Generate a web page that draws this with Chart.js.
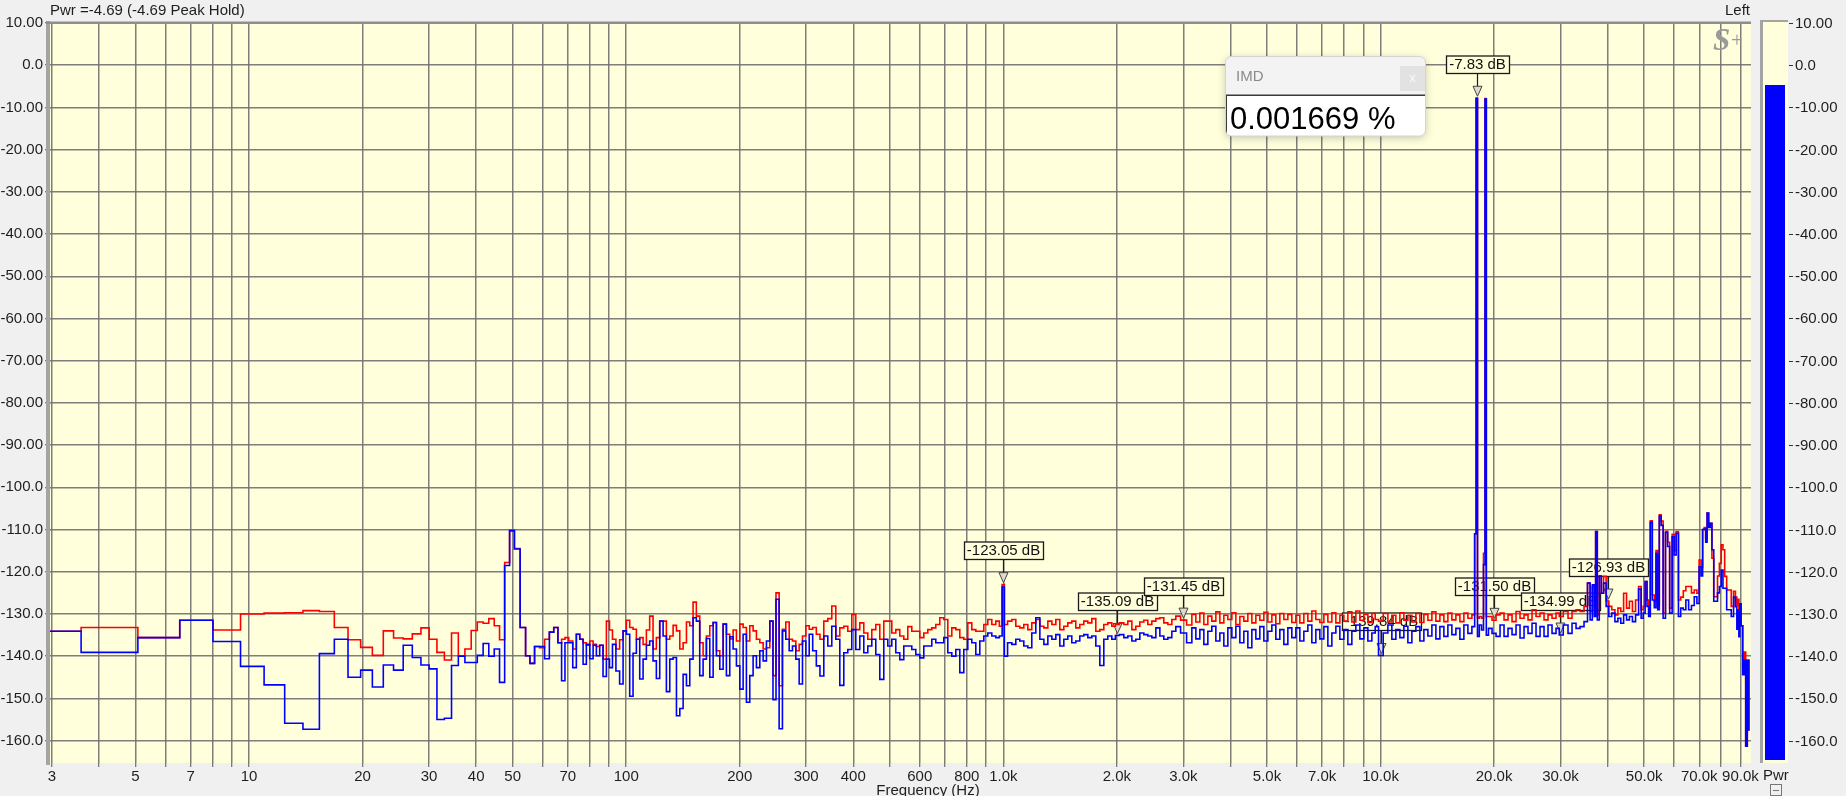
<!DOCTYPE html>
<html>
<head>
<meta charset="utf-8">
<script src="https://cdn.jsdelivr.net/npm/chart.js@4.4.1/dist/chart.umd.min.js"></script>
<style>
  html, body { margin: 0; padding: 0; background: #f0f0f0; }
  canvas { display: block; }
</style>
</head>
<body>
<canvas id="chart" width="1846" height="796"></canvas>
<script>
// spectrum, frequency in Hz
const freqHz = [
  2.93, 4.39, 5.86, 7.32, 8.79, 10.25, 11.72, 13.18, 14.65, 16.11,
  17.58, 19.04, 20.51, 21.97, 23.44, 24.90, 26.37, 27.83, 29.30, 30.76,
  32.23, 33.69, 35.16, 36.62, 38.09, 39.55, 41.02, 42.48, 43.95, 45.41,
  46.88, 48.34, 49.80, 51.27,
  53.4, 54.8, 56.3, 58.0, 59.8, 61.7, 63.4, 65.1, 66.7, 68.1,
  69.5, 71.3, 73.0, 74.5, 76.1, 77.6, 79.2, 80.9, 82.5, 84.2,
  85.9, 87.7, 89.5, 91.1, 92.8, 95.0, 97.1, 99.1, 101.1, 103.2,
  105.3, 107.5, 109.7, 112.0, 114.2, 116.6, 119.0, 121.4, 124.0, 126.5,
  129.1, 131.8, 134.5, 137.3, 140.1, 143.0, 145.9, 148.9, 151.9, 155.0,
  158.3, 161.5, 164.8, 168.3, 171.7, 175.2, 178.9, 182.5, 186.2, 190.1,
  194.0, 198.0, 202.1, 206.2, 210.4, 214.8, 219.2, 223.7, 228.4, 233.0,
  237.8, 242.7, 247.3, 251.8, 256.9, 262.2, 267.7, 273.2, 278.7, 284.5,
  290.4, 296.3, 302.5, 308.7, 315.7, 322.7,
  330, 338.2, 346.5, 355.1, 363.9, 372.9, 382.1, 391.5, 401.2, 411.1,
  421.3, 431.7, 442.4, 453.3, 464.5, 476.0, 487.8, 499.8, 512.2, 524.8,
  537.8, 551.1, 564.7, 578.7, 593.0, 607.7, 622.7, 638.1, 653.9, 670.0,
  686.6, 703.6, 721.0, 738.8, 757.1, 775.8, 795.0, 814.6, 834.8, 855.4,
  876.6, 898.3, 920.5, 943.2, 966.6, 985, 1000, 1012, 1040, 1066,
  1092, 1119, 1147, 1175, 1204, 1234, 1265, 1296, 1328, 1361,
  1394, 1429, 1464, 1500, 1537, 1575, 1614, 1654, 1695, 1737,
  1780, 1824, 1869, 1915, 1963, 2000, 2061, 2112, 2164, 2218,
  2272, 2329, 2386, 2445, 2506, 2568, 2631, 2696, 2763, 2831,
  2901, 3000, 3122, 3199, 3278, 3359, 3442, 3527, 3614, 3704,
  3795, 3889, 3985, 4084, 4185, 4288, 4394, 4503, 4614, 4728,
  4845, 4965, 5088, 5213, 5342, 5474, 5610, 5748, 5890,
  6036, 6185, 6338, 6495, 6655, 6820, 6989, 7162, 7339, 7520,
  7706, 7897, 8092, 8292, 8497, 8707, 8923, 9143, 9369, 9601,
  9760, 10000, 10331, 10586, 10848, 11116, 11391, 11673, 11962, 12257,
  12561, 12871, 13189, 13516, 13850, 14192,
  14543, 14903, 15271, 15649, 16036, 16432, 16839, 17255, 17682, 17850,
  18000, 18150, 18400, 18650, 18850, 19000, 19150, 19510, 20000, 20490,
  21000, 21515, 22047, 22592, 23150, 23722, 24309, 24910, 25526, 26157,
  26803, 27466, 28145, 28840, 29553, 30000, 31033, 31800, 32586, 33391,
  34217, 35063, 35700, 36200, 36680, 37070, 37300, 37820, 38220, 38760,
  39290, 40000, 40600, 41450, 42200, 43000, 43700, 44520, 45300, 46100,
  47000, 47900, 48770, 49400, 50000, 50600, 51150, 51640, 52180, 52920,
  53470, 54030, 54570, 55130, 55800, 56490, 57420, 58000, 58850, 59790,
  60300, 61270, 62020, 63000, 64000, 65000, 66200, 67300, 68500, 69500,
  70380, 71100, 71810, 72500, 73100, 73770, 74490, 75200, 76060, 76900,
  77800, 78700, 79600, 80500, 81300, 82200, 83300, 84500, 85700, 86900,
  87700, 88400, 88900, 89400, 89900, 90800, 91700, 92500, 93400, 94300,
  95200
];

// red trace, dB
const redDb = [
  -134.1, -133.2, -135.6, -131.5, -133.8, -130.0, -129.8, -129.7, -129.2, -129.4,
  -133.2, -136.1, -137.9, -139.8, -134.0, -135.7, -135.9, -134.7, -133.3, -136.0,
  -139.1, -140.9, -134.5, -139.9, -138.3, -133.9, -131.9, -132.2, -131.1, -132.8,
  -136.1, -117.8, -110.1, -114.5,
  -133.2, -139.9, -141.7, -137.7, -138.0, -136.0, -134.3, -133.2, -136.8, -136.0,
  -135.6, -136.4, -138.3, -134.8, -136.0, -136.8, -137.4, -136.4, -137.2, -137.7,
  -137.4, -140.7, -131.7, -133.8, -136.0, -138.3, -136.1, -134.0, -131.5, -133.2,
  -133.6, -136.0, -135.6, -137.2, -133.8, -130.5, -138.3, -135.6, -131.7, -131.7,
  -136.0, -135.2, -132.7, -134.0, -138.3, -136.8, -131.9, -132.8, -127.2, -130.5,
  -136.8, -139.9, -135.2, -132.8, -132.0, -138.7, -139.9, -132.4, -134.8, -135.9,
  -133.8, -136.4, -132.4, -133.2, -136.4, -132.8, -134.0, -136.0, -136.8, -138.3,
  -138.0, -131.7, -144.6, -125.0, -147.0, -133.6, -131.9, -136.0, -136.4, -138.7,
  -137.2, -135.2, -132.8, -133.6, -133.2, -134.8,
  -136.0, -131.7, -131.1, -128.1, -135.2, -133.3, -132.9, -134.1, -130.1, -133.7,
  -132.1, -134.5, -136.0, -133.7, -132.5, -136.0, -131.7, -131.7, -134.5, -133.7,
  -135.2, -136.0, -133.0, -134.1, -134.1, -135.6, -134.5, -133.7, -133.3, -132.5,
  -130.9, -131.3, -135.2, -133.3, -133.7, -135.6, -136.0, -132.1, -133.7, -134.1,
  -134.1, -132.5, -131.3, -132.5, -131.7, -132.9, -123.05, -132.5, -131.7, -131.3,
  -132.9, -133.3, -132.5, -133.7, -132.1, -131.3, -132.9, -133.3, -131.7, -132.5,
  -131.3, -133.7, -132.9, -132.1, -131.7, -133.3, -132.5, -131.7, -132.1, -131.1,
  -134.1, -133.7, -132.5, -132.1, -132.9, -132.5, -132.1, -132.5, -131.7, -133.7,
  -132.9, -131.9, -131.5, -132.5, -131.7, -131.1, -130.9, -132.1, -132.5, -131.3,
  -130.5, -131.45, -132.6, -130.1, -131.9, -129.8, -132.5, -130.5, -131.7, -129.5,
  -132.1, -130.3, -131.3, -129.7, -132.5, -130.6, -131.7, -129.9, -132.1, -130.3,
  -131.5, -129.6, -131.9, -130.2, -132.3, -129.9, -131.3, -130.1, -132.0,
  -130.3, -132.1, -129.9, -131.7, -129.3, -131.3, -132.0, -130.1, -131.9, -129.7,
  -132.1, -130.3, -131.7, -129.5, -131.9, -129.3, -131.5, -130.1, -132.0, -129.9,
  -131.3, -131.7, -129.9, -131.9, -130.3, -132.1, -129.7, -131.5, -130.3, -131.9,
  -129.9, -132.0, -130.1, -131.5, -129.5, -131.7,
  -130.2, -131.8, -129.8, -131.4, -130.2, -131.8, -129.8, -131.0, -130.2, -111.0,
  -7.83, -131.0, -130.6, -131.0, -115.6, -7.9, -130.6, -130.6, -131.50, -130.2,
  -129.8, -131.4, -130.2, -131.8, -129.4, -131.0, -130.2, -131.4, -129.0, -130.6,
  -129.8, -131.4, -130.2, -131.0, -129.8, -130.6, -129.4, -131.0, -129.4, -129.0,
  -129.4, -128.2, -122.7, -129.4, -123.5, -128.6, -110.5, -130.2, -121.0, -125.1,
  -121.1, -126.93, -128.2, -129.0, -130.2, -128.6, -129.4, -125.1, -128.6, -127.0,
  -129.4, -126.7, -123.5, -129.0, -128.2, -122.3, -126.7, -129.8, -107.9, -125.5,
  -127.0, -115.0, -128.0, -106.5, -108.0, -129.8, -110.4, -113.0, -128.6, -111.1,
  -115.0, -110.5, -126.7, -126.0, -124.5, -123.5, -123.5, -125.0, -124.3, -125.1,
  -117.2, -119.0, -110.0, -109.5, -112.0, -106.1, -109.0, -108.5, -116.8, -125.9,
  -125.9, -121.0, -118.0, -113.6, -114.8, -121.1, -124.3, -124.3, -128.2, -124.6,
  -126.0, -128.0, -126.5, -130.0, -127.6, -132.8, -143.0, -139.0, -161.3, -141.0,
  -157.5
];

// blue trace, dB
const blueDb = [
  -134.1, -139.1, -135.6, -131.5, -136.5, -142.4, -146.8, -155.9, -157.3, -139.4,
  -136.0, -145.0, -143.3, -147.3, -142.1, -143.3, -137.4, -140.3, -142.1, -143.0,
  -155.0, -154.7, -142.2, -140.0, -141.5, -141.5, -139.8, -137.0, -140.0, -138.3,
  -146.2, -118.5, -110.3, -114.6,
  -133.2, -139.9, -141.7, -137.7, -137.7, -140.6, -134.3, -133.2, -136.8, -145.8,
  -136.8, -136.8, -142.7, -134.8, -136.0, -141.9, -137.2, -140.6, -137.4, -139.9,
  -137.4, -144.8, -140.7, -142.7, -137.2, -143.5, -146.6, -134.0, -134.8, -149.5,
  -139.3, -136.0, -145.4, -140.7, -137.4, -136.4, -141.1, -145.3, -131.7, -135.2,
  -148.4, -140.7, -140.3, -154.1, -152.4, -144.3, -147.0, -140.7, -130.9, -131.7,
  -144.6, -140.7, -135.8, -145.0, -132.0, -139.9, -143.1, -132.4, -144.6, -135.4,
  -138.3, -142.3, -147.8, -134.8, -150.9, -144.6, -139.9, -142.7, -138.7, -141.1,
  -136.4, -131.7, -150.3, -126.5, -157.2, -134.0, -136.0, -138.7, -137.6, -140.7,
  -146.6, -136.4, -139.9, -134.8, -138.7, -142.3,
  -144.7, -135.2, -137.6, -132.9, -136.0, -146.9, -139.2, -138.4, -133.7, -138.4,
  -135.2, -139.2, -137.6, -136.0, -139.6, -145.5, -136.0, -137.6, -136.0, -139.2,
  -140.8, -137.6, -137.6, -138.4, -139.6, -140.4, -137.6, -137.6, -136.0, -136.8,
  -136.8, -135.6, -139.2, -140.0, -138.4, -143.9, -138.4, -136.0, -136.8, -139.6,
  -136.4, -135.2, -134.5, -135.2, -135.6, -135.2, -123.6, -140.0, -136.8, -137.2,
  -136.0, -136.4, -137.6, -138.0, -134.5, -130.9, -136.0, -137.2, -135.2, -136.0,
  -134.9, -137.6, -136.0, -135.2, -136.8, -136.4, -135.2, -134.9, -135.6, -135.2,
  -137.6, -142.2, -136.0, -135.2, -136.0, -135.09, -134.9, -135.6, -135.2, -136.4,
  -136.0, -134.5, -134.9, -135.2, -135.6, -133.3, -135.2, -136.0, -135.6, -134.1,
  -133.0, -134.5, -136.8, -133.3, -135.9, -133.7, -137.2, -134.1, -132.9, -136.4,
  -134.5, -137.6, -133.3, -135.6, -132.9, -136.8, -134.1, -138.0, -133.7, -135.9,
  -133.0, -136.4, -134.1, -132.6, -136.0, -133.7, -137.2, -133.3, -135.6,
  -133.3, -136.4, -134.1, -132.6, -136.8, -133.7, -135.9, -133.0, -137.6, -134.5,
  -132.9, -136.0, -133.7, -137.2, -134.1, -132.6, -135.9, -133.3, -136.4, -134.5,
  -133.0, -139.84, -134.5, -132.6, -136.0, -133.7, -135.6, -132.9, -136.8, -134.1,
  -133.0, -136.4, -133.7, -135.2, -132.6, -135.9,
  -133.0, -135.3, -132.6, -134.9, -133.4, -136.0, -132.6, -134.6, -133.0, -111.0,
  -7.83, -135.3, -132.6, -133.8, -118.3, -8.0, -135.0, -133.4, -134.6, -135.3,
  -132.6, -135.3, -133.4, -134.9, -132.6, -135.7, -133.0, -134.6, -132.2, -135.3,
  -133.0, -135.3, -132.6, -134.6, -133.4, -134.99, -132.6, -134.6, -132.2, -133.4,
  -133.0, -131.8, -122.7, -131.4, -123.1, -130.6, -110.5, -131.4, -121.0, -125.1,
  -122.7, -128.2, -130.6, -129.8, -131.8, -131.0, -132.2, -130.2, -131.4, -130.6,
  -131.8, -130.2, -124.1, -131.0, -129.8, -122.3, -128.2, -130.6, -108.3, -126.7,
  -128.5, -115.6, -129.0, -106.8, -109.0, -131.0, -110.7, -114.0, -129.8, -111.7,
  -116.0, -110.9, -130.6, -128.6, -129.0, -126.7, -129.0, -128.0, -125.9, -127.5,
  -118.8, -121.0, -110.0, -109.9, -113.0, -106.1, -109.5, -108.5, -114.8, -127.0,
  -127.0, -125.0, -123.5, -119.6, -123.9, -123.9, -129.0, -129.0, -130.6, -126.0,
  -128.3, -133.6, -129.0, -135.4, -127.6, -132.8, -144.4, -141.0, -161.3, -141.0,
  -157.5
];

const xTicks = [
  3, 4, 5, 6, 7, 8, 9,
  10, 20, 30, 40, 50, 60, 70, 80, 90,
  100, 200, 300, 400, 500, 600, 700, 800, 900,
  1000, 2000, 3000, 4000, 5000, 6000, 7000, 8000, 9000,
  10000, 20000, 30000, 40000, 50000, 60000, 70000, 80000, 90000
];
const xTickLabels = [
  '3', '', '5', '', '7', '', '',
  '10', '20', '30', '40', '50', '', '70', '', '',
  '100', '200', '300', '400', '', '600', '', '800', '',
  '1.0k', '2.0k', '3.0k', '', '5.0k', '', '7.0k', '', '',
  '10.0k', '20.0k', '30.0k', '', '50.0k', '', '70.0k', '', '90.0k'
];
const yTicks = [10, 0, -10, -20, -30, -40, -50, -60, -70, -80, -90, -100, -110, -120, -130, -140, -150, -160];
const yTickLabels = ['10.00', '0.0', '-10.00', '-20.00', '-30.00', '-40.00', '-50.00', '-60.00', '-70.00',
  '-80.00', '-90.00', '-100.0', '-110.0', '-120.0', '-130.0', '-140.0', '-150.0', '-160.0'];

const markerHz = [1000, 2000, 3000, 10000, 18000, 20000, 30000, 40000];
const markerDb = [-123.05, -135.09, -131.45, -139.84, -7.83, -131.50, -134.99, -126.93];

const pwrDb = -4.69;
const peakHoldDb = -4.69;
const imdPercent = '0.001669';

const FONT = '"Liberation Sans", Arial, sans-serif';
const PLOT_BG = '#ffffdc';
const GRID = 'rgba(112,112,112,0.9)';

Chart.defaults.font.family = FONT;
Chart.defaults.font.size = 15;
Chart.defaults.color = '#1e1e1e';

const analyzerPlugin = {
  id: 'analyzer',
  beforeDraw(chart) {
    const { ctx, chartArea: a } = chart;
    ctx.save();
    ctx.fillStyle = '#f0f0f0';
    ctx.fillRect(0, 0, chart.width, chart.height);
    ctx.fillStyle = PLOT_BG;
    ctx.fillRect(a.left, a.top, a.right - a.left, a.bottom - a.top);
    ctx.restore();
  },
  beforeDatasetsDraw(chart) {
    const { ctx } = chart;
    const xs = chart.scales.x;
    const ys = chart.scales.y;
    ctx.save();
    ctx.font = '15px ' + FONT;
    ctx.textAlign = 'center';
    ctx.textBaseline = 'middle';
    markerHz.forEach((f, i) => {
      const x = Math.round(xs.getPixelForValue(f)) + 0.5;
      const vy = ys.getPixelForValue(markerDb[i]);
      const tip = vy - 2;
      const triTop = tip - 10;
      const boxBottom = Math.round(vy - 25.5) + 0.5;
      const boxTop = boxBottom - 17.5;
      const text = markerDb[i].toFixed(2) + ' dB';
      const w = Math.round(ctx.measureText(text).width) + 6;
      const bx = Math.round(x - w / 2) + 0.5;

      ctx.fillStyle = PLOT_BG;
      ctx.fillRect(bx, boxTop, w, boxBottom - boxTop);
      ctx.strokeStyle = '#1a1a1a';
      ctx.lineWidth = 1.3;
      ctx.strokeRect(bx, boxTop, w, boxBottom - boxTop);
      ctx.fillStyle = '#111';
      ctx.fillText(text, x, (boxTop + boxBottom) / 2 + 0.5);

      ctx.lineWidth = 1.2;
      ctx.beginPath();
      ctx.moveTo(x, boxBottom);
      ctx.lineTo(x, triTop);
      ctx.stroke();

      ctx.beginPath();
      ctx.moveTo(x - 4.5, triTop);
      ctx.lineTo(x + 4.5, triTop);
      ctx.lineTo(x, tip);
      ctx.closePath();
      ctx.fillStyle = '#dcdcc8';
      ctx.fill();
      ctx.strokeStyle = '#444';
      ctx.lineWidth = 1;
      ctx.stroke();
    });
    ctx.restore();
  },
  afterDraw(chart) {
    const { ctx, chartArea: a } = chart;
    const ys = chart.scales.y;
    ctx.save();

    // plot frame (left and top edge)
    ctx.fillStyle = '#a4a4a4';
    ctx.fillRect(a.left - 2, a.top - 2, 4, a.bottom - a.top + 4);
    ctx.fillStyle = '#8e8e8e';
    ctx.fillRect(a.left - 2, a.top - 1.5, a.right - a.left + 2, 2.5);

    // header texts
    ctx.fillStyle = '#1e1e1e';
    ctx.font = '15px ' + FONT;
    ctx.textBaseline = 'alphabetic';
    ctx.textAlign = 'left';
    ctx.fillText('Pwr =' + pwrDb.toFixed(2) + ' (' + peakHoldDb.toFixed(2) + ' Peak Hold)', 50, 15);
    ctx.textAlign = 'right';
    ctx.fillText('Left', a.right - 1, 15);
    ctx.textAlign = 'center';
    ctx.fillText('Frequency (Hz)', 928, 795);

    // S+ logo
    ctx.fillStyle = '#9a9a9a';
    ctx.textAlign = 'left';
    ctx.font = 'italic bold 31px "Liberation Serif", "DejaVu Serif", serif';
    ctx.fillText('S', 1713, 50);
    ctx.font = '21px "Liberation Serif", "DejaVu Serif", serif';
    ctx.fillText('+', 1731, 47);

    // level meter
    const mLeft = 1760, mRight = 1788;
    ctx.fillStyle = '#a4a4a4';
    ctx.fillRect(mLeft, 20, 3, a.bottom - 20);
    ctx.fillRect(mLeft, 20, mRight - mLeft, 2);
    ctx.fillStyle = PLOT_BG;
    ctx.fillRect(mLeft + 3, 22, mRight - mLeft - 3, a.bottom - 22);
    const barTop = ys.getPixelForValue(pwrDb);
    ctx.fillStyle = '#0000ff';
    ctx.fillRect(1765, barTop, 20, a.bottom - 3 - barTop);

    ctx.font = '15px ' + FONT;
    ctx.textAlign = 'left';
    ctx.textBaseline = 'middle';
    ctx.strokeStyle = '#333';
    ctx.lineWidth = 1;
    yTicks.forEach((v, i) => {
      const y = Math.round(ys.getPixelForValue(v)) + 0.5;
      ctx.beginPath();
      ctx.moveTo(1789, y);
      ctx.lineTo(1793, y);
      ctx.stroke();
      ctx.fillStyle = '#1e1e1e';
      ctx.fillText(yTickLabels[i], 1795, y + 0.5);
    });
    ctx.textBaseline = 'alphabetic';
    ctx.fillText('Pwr', 1763, 780);
    ctx.strokeStyle = '#777';
    ctx.strokeRect(1770.5, 784.5, 11, 11);
    ctx.beginPath();
    ctx.moveTo(1773, 790.5);
    ctx.lineTo(1779, 790.5);
    ctx.stroke();

    // IMD readout box
    const bx = 1225.5, by = 56.5, bw = 200, bh = 79.5;
    ctx.save();
    ctx.shadowColor = 'rgba(0,0,0,0.22)';
    ctx.shadowBlur = 8;
    ctx.shadowOffsetY = 2;
    ctx.beginPath();
    ctx.roundRect(bx, by, bw, bh, 6);
    ctx.fillStyle = '#f3f3f3';
    ctx.fill();
    ctx.restore();
    ctx.save();
    ctx.beginPath();
    ctx.roundRect(bx, by, bw, bh, 6);
    ctx.clip();
    ctx.fillStyle = '#ffffff';
    ctx.fillRect(bx, 95, bw, bh);
    ctx.fillStyle = '#3a3a3a';
    ctx.fillRect(bx, 94.5, bw, 1.5);
    ctx.fillRect(bx, 95, 1.5, bh);
    ctx.restore();
    ctx.strokeStyle = '#d4d4d4';
    ctx.lineWidth = 1;
    ctx.beginPath();
    ctx.roundRect(bx, by, bw, bh, 6);
    ctx.stroke();

    ctx.fillStyle = '#8a8a8a';
    ctx.font = '15px ' + FONT;
    ctx.textAlign = 'left';
    ctx.textBaseline = 'middle';
    ctx.fillText('IMD', 1236, 77);
    ctx.fillStyle = '#e2e2e2';
    ctx.fillRect(1400, 66, 25, 25);
    ctx.fillStyle = '#fafafa';
    ctx.font = '13px ' + FONT;
    ctx.textAlign = 'center';
    ctx.fillText('x', 1412.5, 78);

    ctx.fillStyle = '#000';
    ctx.font = '31px ' + FONT;
    ctx.textAlign = 'left';
    ctx.textBaseline = 'alphabetic';
    ctx.fillText(imdPercent + ' %', 1230, 129);

    ctx.restore();
  }
};

const redPoints = freqHz.map((f, i) => ({ x: f, y: redDb[i] }));
const bluePoints = freqHz.map((f, i) => ({ x: f, y: blueDb[i] }));

new Chart(document.getElementById('chart').getContext('2d'), {
  type: 'line',
  data: {
    datasets: [
      {
        label: 'blue',
        data: bluePoints,
        borderColor: '#0000ff',
        borderWidth: 1.6,
        stepped: 'middle',
        pointRadius: 0,
        fill: false
      },
      {
        label: 'red',
        data: redPoints,
        borderColor: '#ff0000',
        borderWidth: 1.6,
        stepped: 'middle',
        pointRadius: 0,
        fill: false
      }
    ]
  },
  options: {
    responsive: false,
    animation: false,
    devicePixelRatio: 1,
    events: [],
    layout: { padding: { left: 0, right: 95, top: 23, bottom: 0 } },
    plugins: {
      legend: { display: false },
      tooltip: { enabled: false }
    },
    scales: {
      x: {
        type: 'logarithmic',
        min: 2.93,
        max: 96000,
        afterBuildTicks: (scale) => { scale.ticks = xTicks.map(v => ({ value: v })); },
        afterFit: (scale) => { scale.height = 33; },
        border: { display: false },
        grid: { color: GRID, lineWidth: 1.5, tickLength: 4, tickColor: '#555', tickWidth: 1 },
        ticks: {
          autoSkip: false,
          maxRotation: 0,
          minRotation: 0,
          padding: 1,
          color: '#1e1e1e',
          callback: (value, index) => xTickLabels[index]
        }
      },
      y: {
        type: 'linear',
        min: -165.3,
        max: 10,
        afterBuildTicks: (scale) => { scale.ticks = yTicks.map(v => ({ value: v })); },
        afterFit: (scale) => { scale.width = 48; },
        border: { display: false },
        grid: { color: GRID, lineWidth: 1.5, tickLength: 3, tickColor: '#555', tickWidth: 1 },
        ticks: {
          padding: 2,
          color: '#1e1e1e',
          callback: (value, index) => yTickLabels[index]
        }
      }
    }
  },
  plugins: [analyzerPlugin]
});
</script>
</body>
</html>
